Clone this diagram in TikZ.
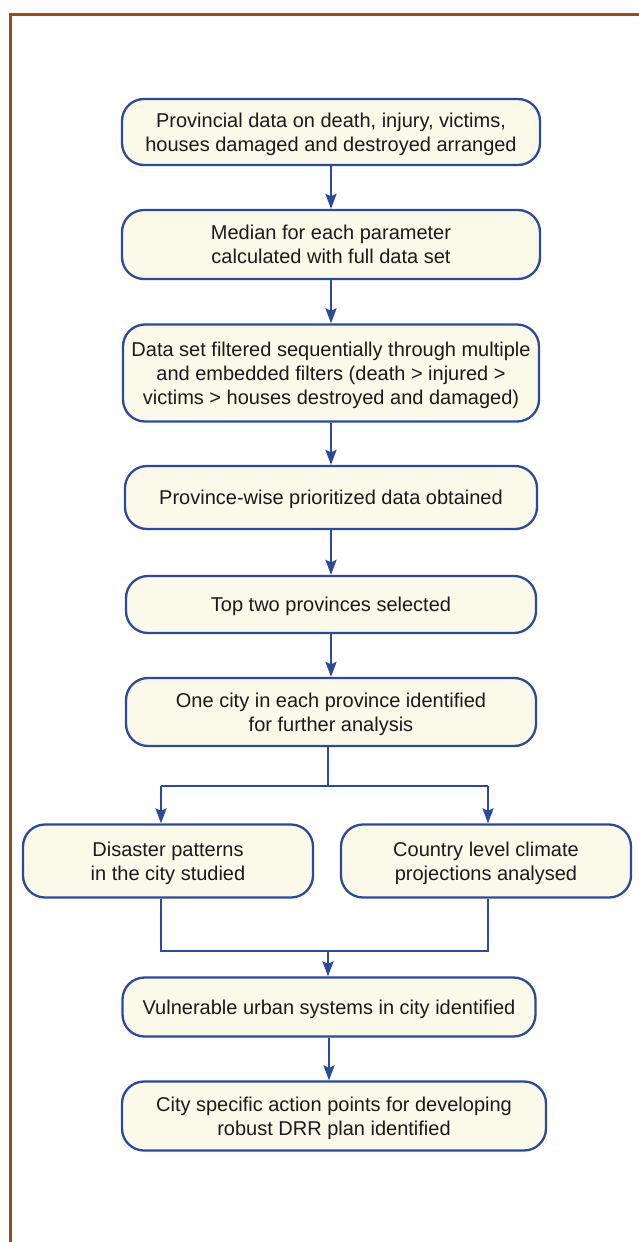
\documentclass[tikz,border=0pt]{standalone}
\usepackage{fontspec}
\setmainfont{Liberation Sans}
\usetikzlibrary{arrows.meta}
\definecolor{framebrown}{HTML}{9E4A1F}
\definecolor{boxblue}{HTML}{2C4A9A}
\definecolor{boxfill}{HTML}{FBF9EA}
\definecolor{txt}{HTML}{1A1A1A}
\tikzset{
  stagebox/.style={draw=boxblue, line width=2.3pt, fill=boxfill, rounded corners=22pt,
    align=center, text=txt, inner sep=0pt, text depth=0pt,
    font=\fontsize{20}{24}\selectfont},
  flow/.style={draw=boxblue, line width=2.3pt},
  flowarrow/.style={flow, -{Stealth[length=15pt,width=11pt,inset=2.5pt]}},
}
\begin{document}
\begin{tikzpicture}[x=1pt, y=-1pt]
\useasboundingbox (0,0) rectangle (638,1242);
% outer frame, open to the right and bottom
\draw[framebrown, line width=3pt] (10,1243) -- (10,14) -- (639,14);

% main sequence of stages
\node[stagebox, minimum width=418pt, minimum height=66pt] (n1) at (331,132)
  {Provincial data on death, injury, victims,\\houses damaged and destroyed arranged};
\node[stagebox, minimum width=418pt, minimum height=69pt] (n2) at (331,244.5)
  {Median for each parameter\\calculated with full data set};
\node[stagebox, minimum width=416pt, minimum height=97pt] (n3) at (331,373)
  {Data set filtered sequentially through multiple\\and embedded filters (death > injured >\\victims > houses destroyed and damaged)};
\node[stagebox, minimum width=412pt, minimum height=63pt] (n4) at (331,497.5)
  {Province-wise prioritized data obtained};
\node[stagebox, minimum width=410pt, minimum height=57pt] (n5) at (331,604.5)
  {Top two provinces selected};
\node[stagebox, minimum width=410pt, minimum height=68pt] (n6) at (331,712)
  {One city in each province identified\\for further analysis};
\node[stagebox, minimum width=290pt, minimum height=73pt] (n7) at (168,861)
  {Disaster patterns\\in the city studied};
\node[stagebox, minimum width=290pt, minimum height=73pt] (n8) at (486,861)
  {Country level climate\\projections analysed};
\node[stagebox, minimum width=413pt, minimum height=59pt] (n9) at (329,1007)
  {Vulnerable urban systems in city identified};
\node[stagebox, minimum width=424pt, minimum height=69pt] (n10) at (334,1116)
  {City specific action points for developing\\robust DRR plan identified};

% straight links
\draw[flowarrow] (n1) -- (n2);
\draw[flowarrow] (n2) -- (n3);
\draw[flowarrow] (n3) -- (n4);
\draw[flowarrow] (n4) -- (n5);
\draw[flowarrow] (n5) -- (n6);
\draw[flowarrow] (n9.south) -- (n9.south |- n10.north);

% split into two parallel studies
\coordinate (split) at (328,786);
\coordinate (splitL) at (161,786);
\coordinate (splitR) at (488,786);
\draw[flow] (split |- n6.south) -- (split);
\draw[flow] (splitL) -- (splitR);
\draw[flowarrow] (splitL) -- (splitL |- n7.north);
\draw[flowarrow] (splitR) -- (splitR |- n8.north);

% merge back into one stream
\coordinate (join) at (328,951);
\coordinate (joinL) at (161,951);
\coordinate (joinR) at (488,951);
\draw[flow] (joinL |- n7.south) -- (joinL) -- (joinR) -- (joinR |- n8.south);
\draw[flowarrow] (join) -- (join |- n9.north);
\end{tikzpicture}
\end{document}
